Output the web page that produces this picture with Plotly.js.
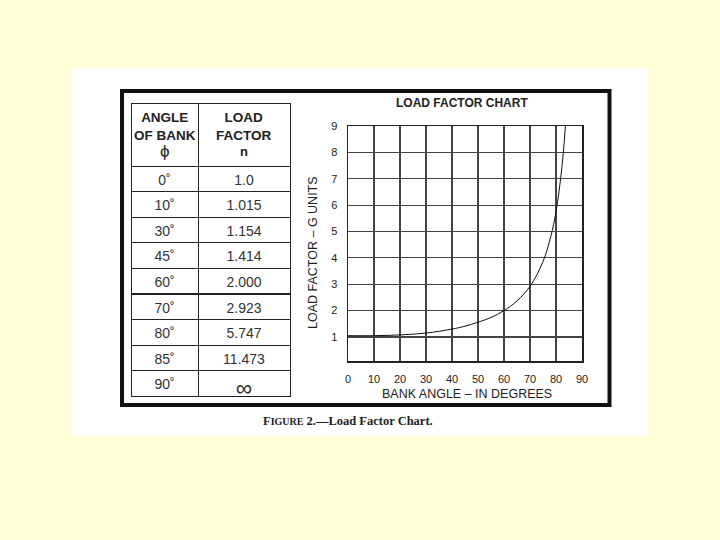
<!DOCTYPE html>
<html>
<head>
<meta charset="utf-8">
<script src="https://cdn.plot.ly/plotly-3.0.1.min.js"></script>
<style>html,body{margin:0;padding:0;background:#FFFFD8;}</style>
</head>
<body>
<div id="chart" style="width:720px;height:540px;"></div>
<script>
// Table data
var tableAngles = ['0˚', '10˚', '30˚', '45˚', '60˚', '70˚', '80˚', '85˚', '90˚'];
var tableLoad = ['1.0', '1.015', '1.154', '1.414', '2.000', '2.923', '5.747', '11.473', '∞'];
var headerTitles = ['ANGLE<br>OF BANK', 'LOAD<br>FACTOR'];
var headerSymbols = ['ϕ', 'n'];

// Curve data
var bankAngle = [0, 10, 20, 30, 40, 45, 50, 55, 60, 65, 70, 75, 78, 80, 82, 83, 83.6];
var loadFactor = [1.05, 1.05, 1.08, 1.15, 1.3, 1.41, 1.56, 1.74, 2.0, 2.37, 2.92, 3.86, 4.81, 5.75, 7.19, 8.2, 9.0];

var xTicks = [0, 10, 20, 30, 40, 50, 60, 70, 80, 90];
var yTicks = [1, 2, 3, 4, 5, 6, 7, 8, 9];

var W = 720, H = 540;
function px(x) { return x / W; }
function py(y) { return 1 - y / H; }

var font = 'Liberation Sans, Arial, sans-serif';

var traces = [
  {
    type: 'table',
    domain: {x: [px(131), px(290)], y: [py(399), py(103)]},
    columnwidth: [67, 92],
    header: {
      values: ['', ''],
      align: 'center',
      height: 63,
      line: {color: '#222', width: 1},
      fill: {color: 'white'},
      font: {family: font, size: 14, color: '#222'}
    },
    cells: {
      values: [tableAngles, tableLoad],
      align: ['center', 'center'],
      height: 25.6,
      line: {color: '#222', width: 1},
      fill: {color: 'white'},
      font: {family: font, size: [14, [14, 14, 14, 14, 14, 14, 14, 14, 23]], color: '#333'}
    }
  },
  {
    type: 'scatter',
    mode: 'lines',
    x: bankAngle,
    y: loadFactor,
    line: {color: '#111', width: 1, shape: 'spline'},
    hoverinfo: 'skip',
    showlegend: false
  }
];

var headerCenters = [164.5, 244];
var annotations = [
  {text: '<b>LOAD FACTOR CHART</b>', xref: 'paper', yref: 'paper', x: px(462), y: py(103),
   xanchor: 'center', yanchor: 'middle', showarrow: false, font: {family: font, size: 12, color: '#222'}},
  {text: 'BANK ANGLE – IN DEGREES', xref: 'paper', yref: 'paper', x: px(467), y: py(394),
   xanchor: 'center', yanchor: 'middle', showarrow: false, font: {family: font, size: 12.5, color: '#222'}},
  {text: 'LOAD FACTOR – G UNITS', xref: 'paper', yref: 'paper', x: px(313), y: py(253),
   xanchor: 'center', yanchor: 'middle', textangle: -90, showarrow: false, font: {family: font, size: 12.5, color: '#222'}},
  {text: '<b>F<span style="font-size:10px">IGURE</span> 2.—Load Factor Chart.</b>', xref: 'paper', yref: 'paper', x: px(348), y: py(421),
   xanchor: 'center', yanchor: 'middle', showarrow: false, font: {family: 'Liberation Serif, Times New Roman, serif', size: 12.5, color: '#222'}}
];
headerTitles.forEach(function (t, i) {
  annotations.push({text: '<b>' + t + '</b>', xref: 'paper', yref: 'paper', x: px(headerCenters[i]), y: py(126),
    xanchor: 'center', yanchor: 'middle', align: 'center', showarrow: false,
    font: {family: font, size: 13.5, color: '#222'}});
});
headerSymbols.forEach(function (t, i) {
  annotations.push({text: i === 1 ? '<b>' + t + '</b>' : t, xref: 'paper', yref: 'paper', x: px(headerCenters[i]), y: py(152),
    xanchor: 'center', yanchor: 'middle', showarrow: false,
    font: {family: font, size: i === 0 ? 17 : 13, color: '#222'}});
});

var layout = {
  width: W,
  height: H,
  margin: {l: 0, r: 0, t: 0, b: 0},
  paper_bgcolor: '#FFFFD8',
  plot_bgcolor: 'white',
  showlegend: false,
  xaxis: {
    domain: [px(348), px(582)],
    range: [0, 90],
    tickvals: xTicks,
    ticks: '',
    ticklabelstandoff: 7,
    showgrid: true,
    gridcolor: '#444',
    gridwidth: 1.2,
    zeroline: false,
    showline: true,
    mirror: true,
    linecolor: '#222',
    linewidth: 1.5,
    tickfont: {family: font, size: 11, color: '#222'},
    fixedrange: true
  },
  yaxis: {
    domain: [py(361), py(126)],
    range: [0.09, 9],
    tickvals: yTicks,
    ticks: '',
    ticklabelstandoff: 7,
    showgrid: true,
    gridcolor: '#444',
    gridwidth: 1.2,
    zeroline: false,
    showline: true,
    mirror: true,
    linecolor: '#222',
    linewidth: 1.5,
    tickfont: {family: font, size: 11, color: '#222'},
    fixedrange: true
  },
  shapes: [
    {type: 'rect', xref: 'paper', yref: 'paper', x0: px(72), x1: px(647), y0: py(436), y1: py(68),
     fillcolor: 'white', line: {width: 0}, layer: 'below'},
    {type: 'rect', xref: 'paper', yref: 'paper', x0: px(122), x1: px(609.5), y0: py(405), y1: py(91),
     fillcolor: 'rgba(0,0,0,0)', line: {color: '#111', width: 4}, layer: 'above'}
  ],
  annotations: annotations
};

Plotly.newPlot('chart', traces, layout, {displayModeBar: false, staticPlot: true});
</script>
</body>
</html>
